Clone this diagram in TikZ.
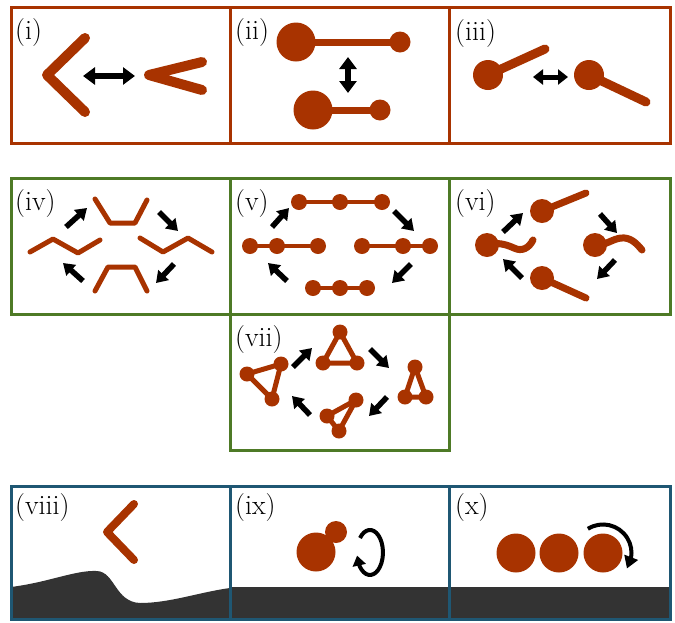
\documentclass[tikz,border=0pt]{standalone}
\usetikzlibrary{arrows.meta,bending}
\definecolor{rust}{RGB}{168,51,0}
\definecolor{boxgreen}{RGB}{78,122,38}
\definecolor{boxblue}{RGB}{31,87,115}
\definecolor{ground}{RGB}{51,51,51}
\begin{document}
\begin{tikzpicture}[x=1pt,y=-1pt,
 stick/.style={draw=rust,line width=#1,line cap=round,line join=round},
 ball/.style={fill=rust},
 cyc/.style={line width=5.5pt,-{Triangle[length=11pt,width=14pt]}},
 dbl/.style={line width=6pt,{Triangle[length=12pt,width=17pt]}-{Triangle[length=12pt,width=17pt]}},
 lab/.style={anchor=north west,inner sep=0pt,font=\fontsize{28}{30}\selectfont},
 panel/.style={draw=#1,line width=3pt}]
\useasboundingbox (0,0) rectangle (675,622);

% ---------- grounds ----------
\fill[ground] (11,587) .. controls (50,582) and (75,570) .. (97,571)
  .. controls (115,572) and (115,602) .. (140,603)
  .. controls (170,603) and (200,592) .. (230,588) -- (230,619) -- (11,619) -- cycle;
\fill[ground] (230,587) rectangle (670,619);

% ---------- panel frames ----------
\draw[panel=rust] (11,7) rectangle (230,143);
\draw[panel=rust] (230,7) rectangle (449,143);
\draw[panel=rust] (449,7) rectangle (670,143);
\draw[panel=boxgreen] (11,178) rectangle (230,314);
\draw[panel=boxgreen] (230,178) rectangle (449,314);
\draw[panel=boxgreen] (449,178) rectangle (670,314);
\draw[panel=boxgreen] (230,314) rectangle (449,450);
\draw[panel=boxblue] (11,486) rectangle (230,619);
\draw[panel=boxblue] (230,486) rectangle (449,619);
\draw[panel=boxblue] (449,486) rectangle (670,619);

% ---------- labels ----------
\node[lab] (li) at (15,18) {(i)};
\node[lab] (lii) at (235,18) {(ii)};
\node[lab] (liii) at (455,19) {(iii)};
\node[lab] (liv) at (15,189) {(iv)};
\node[lab] (lv) at (235,189) {(v)};
\node[lab] (lvi) at (455,189) {(vi)};
\node[lab] (lvii) at (235,325) {(vii)};
\node[lab] (lviii) at (15,493) {(viii)};
\node[lab] (lix) at (235,493) {(ix)};
\node[lab] (lx) at (455,493) {(x)};

% ---------- (i) ----------
\draw[stick=10pt] (85,38) -- (47,75) -- (85,112);
\draw[stick=10pt] (202,62) -- (149,75) -- (202,90);
\coordinate (ia) at (83,76); \coordinate (ib) at (135,76);
\draw[dbl] (ia) -- (ib);

% ---------- (ii) ----------
\coordinate (b1) at (296,42); \coordinate (s1) at (400,42);
\coordinate (b2) at (313,110); \coordinate (s2) at (380,110);
\draw[stick=7pt] (b1) -- (s1);
\draw[stick=7pt] (b2) -- (s2);
\fill[ball] (b1) circle[radius=19.5];
\fill[ball] (s1) circle[radius=10.5];
\fill[ball] (b2) circle[radius=19.5];
\fill[ball] (s2) circle[radius=10.5];
\coordinate (iia) at (348,57); \coordinate (iib) at (348,93);
\draw[line width=6pt,{Triangle[length=12pt,width=17pt]}-{Triangle[length=12pt,width=17pt]}] (iia) -- (iib);

% ---------- (iii) ----------
\coordinate (c1) at (488,75); \coordinate (c2) at (589,75);
\draw[stick=9pt] (c1) -- (545,49);
\draw[stick=9pt] (c2) -- (646,102);
\fill[ball] (c1) circle[radius=15];
\fill[ball] (c2) circle[radius=15];
\coordinate (iiia) at (533,77); \coordinate (iiib) at (568,77);
\draw[line width=5pt,{Triangle[length=10pt,width=15pt]}-{Triangle[length=10pt,width=15pt]}] (iiia) -- (iiib);

% ---------- (iv) ----------
\draw[stick=5pt] (95,199) -- (110,223) -- (135,223) -- (147,200);
\draw[stick=5pt] (95,291) -- (108,267) -- (135,267) -- (147,291);
\draw[stick=5pt] (30,252) -- (53,239) -- (78,253) -- (100,240);
\draw[stick=5pt] (140,238) -- (163,252) -- (188,238) -- (212,252);
\draw[cyc] (66,227) -- (87,208);
\draw[cyc] (159,212) -- (178,231);
\draw[cyc] (174,264) -- (156,283);
\draw[cyc] (83,281) -- (63,263);

% ---------- (v) ----------
\foreach \a/\b/\c/\y in {299/340/382/202, 250/277/318/246, 362/403/430/246, 313/340/367/288}{
  \draw[stick=4.5pt] (\a,\y) -- (\c,\y);
  \fill[ball] (\a,\y) circle[radius=8];
  \fill[ball] (\b,\y) circle[radius=8];
  \fill[ball] (\c,\y) circle[radius=8];
}
\draw[cyc] (272,227) -- (289,208);
\draw[cyc] (394,211) -- (414,231);
\draw[cyc] (411,264) -- (392,283);
\draw[cyc] (287,281) -- (268,263);

% ---------- (vi) ----------
\coordinate (d1) at (542,211); \coordinate (d2) at (595,245);
\coordinate (d3) at (542,278); \coordinate (d4) at (487,245);
\draw[stick=7pt] (d1) -- (586,193);
\draw[stick=7pt] (d3) -- (586,298);
\draw[stick=7pt] (d4) .. controls (497,242) and (505,244) .. (514,248)
   .. controls (522,252) and (529,248) .. (533,240);
\draw[stick=7pt] (d2) .. controls (605,246) and (612,239) .. (621,238)
   .. controls (631,237) and (637,244) .. (642,250);
\foreach \p in {d1,d2,d3,d4} \fill[ball] (\p) circle[radius=12];
\draw[cyc] (503,232) -- (523,213);
\draw[cyc] (600,214) -- (617,233);
\draw[cyc] (615,260) -- (597,279);
\draw[cyc] (522,278) -- (503,259);

% ---------- (vii) ----------
\foreach \ax/\ay/\bx/\by/\cx/\cy in {340/332/323/363/357/363, 247/374/281/364/272/399,
   415/367/405/397/426/397, 356/400/327/416/339/431}{
  \draw[stick=5pt] (\ax,\ay) -- (\bx,\by) -- (\cx,\cy) -- cycle;
  \fill[ball] (\ax,\ay) circle[radius=7.5];
  \fill[ball] (\bx,\by) circle[radius=7.5];
  \fill[ball] (\cx,\cy) circle[radius=7.5];
}
\draw[cyc] (293,367) -- (312,348);
\draw[cyc] (370,349) -- (389,368);
\draw[cyc] (387,397) -- (369,416);
\draw[cyc] (310,415) -- (292,396);

% ---------- (viii) ----------
\draw[stick=8pt] (134,504) -- (107,532) -- (134,560);

% ---------- (ix) ----------
\fill[ball] (316,552) circle[radius=19.5];
\fill[ball] (336,532) circle[radius=11];
\draw[line width=4pt,-{Triangle[length=10pt,width=13pt]}] (360,538)
   arc[start angle=-140,end angle=172,x radius=13,y radius=22.5];

% ---------- (x) ----------
\coordinate (e1) at (516,553); \coordinate (e2) at (559,553); \coordinate (e3) at (603,553);
\foreach \p in {e1,e2,e3} \fill[ball] (\p) circle[radius=19.5];
\draw[line width=4pt,-{Triangle[length=12pt,width=14pt]}] (587.9,528.8)
   arc[start angle=-122,end angle=33,radius=28.5];
\end{tikzpicture}
\end{document}
